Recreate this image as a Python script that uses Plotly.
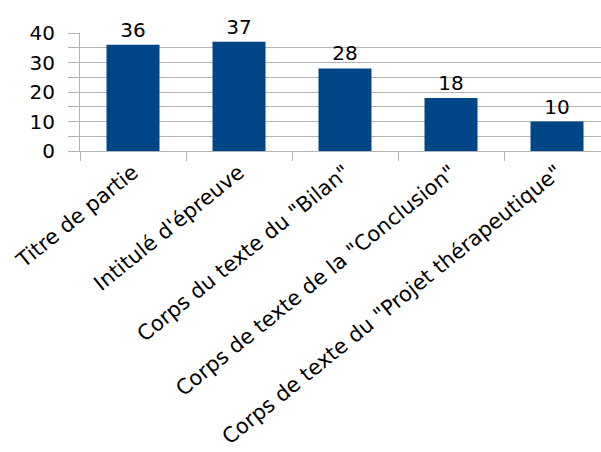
import plotly.graph_objects as go

categories = ["Titre de partie", "Intitulé d'épreuve", "Corps du texte du \"Bilan\"",
              "Corps de texte de la \"Conclusion\"", "Corps de texte du \"Projet thérapeutique\""]
values = [36, 37, 28, 18, 10]
y_tick_vals = [0, 10, 20, 30, 40]

FONT = "DejaVu Sans"

fig = go.Figure(go.Bar(
    x=categories, y=values, width=0.5,
    marker=dict(color="#004586", line=dict(width=0)),
    text=[str(v) for v in values], textposition="outside",
    textfont=dict(family=FONT, size=20, color="#000000"),
    cliponaxis=False,
))

fig.update_layout(
    width=601, height=452,
    margin=dict(l=80, r=0, t=33, b=301),
    plot_bgcolor="white", paper_bgcolor="white",
    font=dict(family=FONT, size=20, color="#000000"),
    showlegend=False,
    bargap=0.5,
)
fig.update_xaxes(
    type="category", range=[-0.5, 4.415], automargin=False,
    tickangle=-39, tickson="boundaries", ticks="outside", ticklen=9,
    tickcolor="#b3b3b3", tickwidth=1,
    showline=True, linecolor="#b3b3b3", linewidth=1,
    showgrid=False, tickfont=dict(family=FONT, size=21, color="#000000"),
)
fig.update_yaxes(
    range=[0, 40], tickvals=y_tick_vals, ticks="outside", ticklen=11,
    automargin=False,
    tickcolor="#b3b3b3", showline=True, linecolor="#b3b3b3", linewidth=1,
    showgrid=True, gridcolor="#b3b3b3", gridwidth=1, zeroline=False,
    minor=dict(dtick=5, showgrid=True, gridcolor="#b3b3b3", ticks="outside",
               ticklen=11, tickcolor="#b3b3b3"),
    tickfont=dict(family=FONT, size=20, color="#000000"), ticklabelstandoff=9,
)

fig.write_html("out.html")
